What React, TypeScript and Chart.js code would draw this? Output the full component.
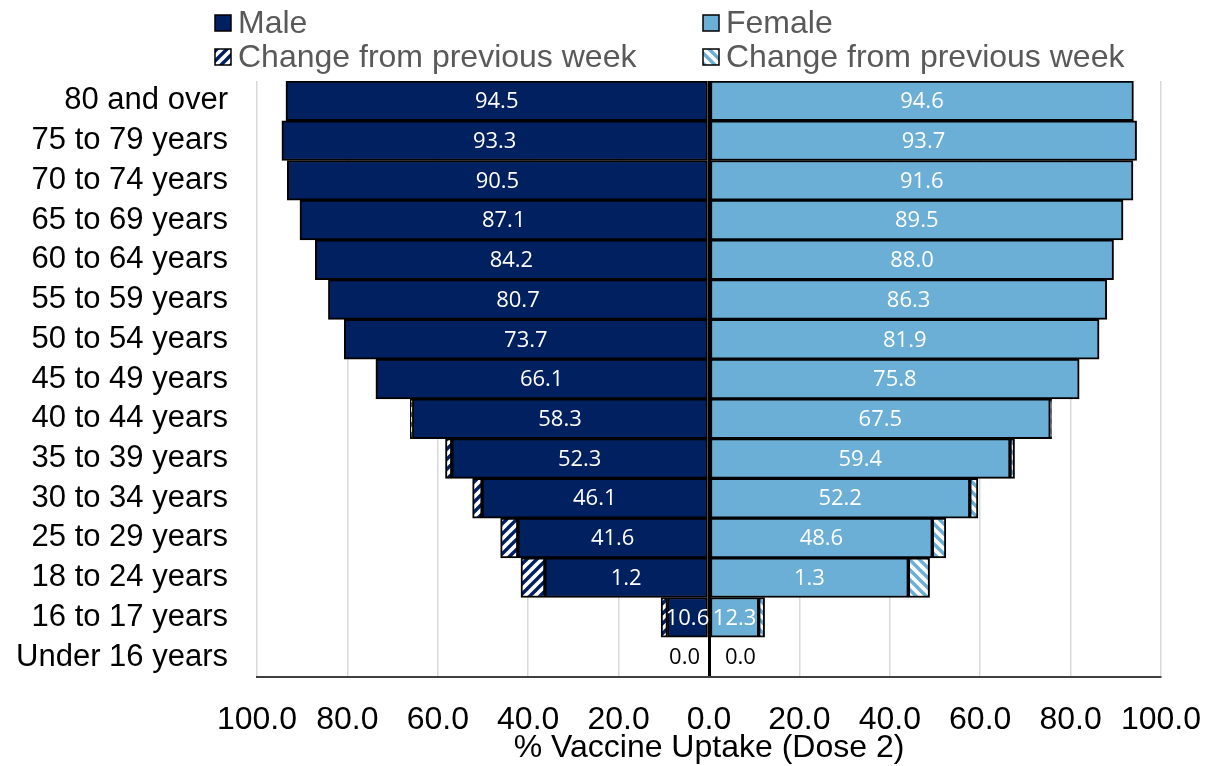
import React, { useEffect, useRef } from "react";
import { Chart, registerables } from "chart.js";

Chart.register(...registerables);

const ageGroups = [
  "80 and over",
  "75 to 79 years",
  "70 to 74 years",
  "65 to 69 years",
  "60 to 64 years",
  "55 to 59 years",
  "50 to 54 years",
  "45 to 49 years",
  "40 to 44 years",
  "35 to 39 years",
  "30 to 34 years",
  "25 to 29 years",
  "18 to 24 years",
  "16 to 17 years",
  "Under 16 years",
];

// Solid (previous) values and weekly change
const maleBase = [93.6, 94.5, 93.3, 90.5, 87.1, 84.2, 80.7, 73.7, 65.6, 56.9, 50.2, 42.3, 36.3, 9.2, 0];
const maleChange = [0, 0, 0, 0, 0, 0, 0, 0, 0.5, 1.4, 2.1, 3.8, 5.3, 1.4, 0];
const femaleBase = [93.9, 94.6, 93.8, 91.6, 89.5, 88.0, 86.3, 81.9, 75.5, 66.6, 57.7, 49.4, 44.1, 11.0, 0];
const femaleChange = [0, 0, 0, 0, 0, 0, 0, 0, 0.3, 1.0, 1.8, 3.0, 4.7, 1.3, 0];

// Data labels as printed in the chart
const maleLabels = ["94.5", "93.3", "90.5", "87.1", "84.2", "80.7", "73.7", "66.1", "58.3", "52.3", "46.1", "41.6", "1.2", "10.6", "0.0"];
const femaleLabels = ["94.6", "93.7", "91.6", "89.5", "88.0", "86.3", "81.9", "75.8", "67.5", "59.4", "52.2", "48.6", "1.3", "12.3", "0.0"];

const seriesNames = ["Male", "Change from previous week", "Female", "Change from previous week"];
const axisTitle = "% Vaccine Uptake (Dose 2)";

const NAVY = "#002060";
const LIGHT = "#6BAED6";

function hasFont(name: string): boolean {
  const ctx = document.createElement("canvas").getContext("2d")!;
  const s = "100.0 Change from previous week";
  ctx.font = "40px monospace";
  const a = ctx.measureText(s).width;
  ctx.font = `40px "${name}", monospace`;
  const b = ctx.measureText(s).width;
  return Math.abs(a - b) > 0.5;
}

function hatch(color: string, up: boolean): CanvasPattern {
  const n = 10;
  const c = document.createElement("canvas");
  c.width = n;
  c.height = n;
  const g = c.getContext("2d")!;
  g.fillStyle = "#ffffff";
  g.fillRect(0, 0, n, n);
  g.strokeStyle = color;
  g.lineWidth = 3.4;
  g.beginPath();
  if (up) {
    g.moveTo(-2, n + 2); g.lineTo(n + 2, -2);
    g.moveTo(-2, 2); g.lineTo(2, -2);
    g.moveTo(n - 2, n + 2); g.lineTo(n + 2, n - 2);
  } else {
    g.moveTo(-2, -2); g.lineTo(n + 2, n + 2);
    g.moveTo(n - 2, -2); g.lineTo(n + 2, 2);
    g.moveTo(-2, n - 2); g.lineTo(2, n + 2);
  }
  g.stroke();
  return g.createPattern(c, "repeat")!;
}

export default function App() {
  const ref = useRef<HTMLCanvasElement | null>(null);

  useEffect(() => {
    if (!ref.current) return;
    document.documentElement.style.overflow = "hidden";
    document.body.style.overflow = "hidden";
    const narrow = hasFont("Liberation Sans Narrow");
    const condFamily = narrow ? '"Liberation Sans Narrow", "Liberation Sans", Arial, sans-serif' : '"Liberation Sans", Arial, sans-serif';
    const condSize = narrow ? 38 : 32;
    const labelFont = '22px "Open Sans", "Noto Sans", sans-serif';

    const maleHatch = hatch(NAVY, true);
    const femaleHatch = hatch(LIGHT, false);
    const fills = [NAVY, maleHatch, LIGHT, femaleHatch];

    const custom = {
      id: "custom",
      afterDatasetsDraw(chart: any) {
        const ctx = chart.ctx as CanvasRenderingContext2D;
        const x0 = chart.scales.x.getPixelForValue(0);
        ctx.save();
        ctx.font = labelFont;
        ctx.textBaseline = "middle";
        const m0 = chart.getDatasetMeta(0).data;
        const f0 = chart.getDatasetMeta(2).data;
        for (let i = 0; i < ageGroups.length; i++) {
          const me = m0[i];
          if (maleBase[i] > 0) {
            ctx.fillStyle = "#ffffff";
            ctx.textAlign = "center";
            ctx.fillText(maleLabels[i], (me.x + me.base) / 2, me.y + 1);
          } else {
            ctx.fillStyle = "#000000";
            ctx.textAlign = "right";
            ctx.fillText(maleLabels[i], x0 - 9, me.y + 1);
          }
          const fe = f0[i];
          if (femaleBase[i] > 0) {
            ctx.fillStyle = "#ffffff";
            ctx.textAlign = "center";
            ctx.fillText(femaleLabels[i], (fe.x + fe.base) / 2, fe.y + 1);
          } else {
            ctx.fillStyle = "#000000";
            ctx.textAlign = "left";
            ctx.fillText(femaleLabels[i], x0 + 16, fe.y + 1);
          }
        }
        ctx.restore();
      },
      afterDraw(chart: any) {
        const ctx = chart.ctx as CanvasRenderingContext2D;
        const area = chart.chartArea;
        ctx.save();
        // Legend
        const items = [
          { ds: 0, x: 207, y: 15 },
          { ds: 2, x: 695, y: 15 },
          { ds: 1, x: 207, y: 49 },
          { ds: 3, x: 695, y: 49 },
        ];
        ctx.font = `${condSize}px ${condFamily}`;
        ctx.textBaseline = "middle";
        ctx.textAlign = "left";
        for (const it of items) {
          ctx.fillStyle = fills[it.ds] as any;
          ctx.fillRect(it.x, it.y - 8, 16, 16);
          ctx.strokeStyle = "#000000";
          ctx.lineWidth = 1.5;
          ctx.strokeRect(it.x, it.y - 8, 16, 16);
          ctx.fillStyle = "#595959";
          ctx.fillText(chart.data.datasets[it.ds].label, it.x + 23, it.y + 1);
        }
        // Axis title
        ctx.fillStyle = "#000000";
        ctx.textAlign = "center";
        ctx.fillText(axisTitle, (area.left + area.right) / 2, 740);
        ctx.restore();
      },
    };

    const common = {
      borderColor: "#000000",
      borderWidth: 2,
      borderSkipped: false,
      stack: "all",
    };

    const chart = new Chart(ref.current, {
      type: "bar",
      data: {
        labels: ageGroups,
        datasets: [
          { label: seriesNames[0], data: maleBase.map((v) => -v), backgroundColor: NAVY, ...common },
          { label: seriesNames[1], data: maleChange.map((v) => -v), backgroundColor: maleHatch as any, ...common },
          { label: seriesNames[2], data: femaleBase, backgroundColor: LIGHT, ...common },
          { label: seriesNames[3], data: femaleChange, backgroundColor: femaleHatch as any, ...common },
        ],
      },
      options: {
        indexAxis: "y",
        responsive: false,
        animation: false,
        barPercentage: 1,
        categoryPercentage: 1,
        layout: { padding: { top: 73, right: 39, left: 0, bottom: 0 } },
        plugins: {
          legend: { display: false },
          tooltip: { enabled: false },
          title: { display: false },
        },
        scales: {
          x: {
            stacked: true,
            min: -100,
            max: 100,
            ticks: {
              stepSize: 20,
              autoSkip: false,
              maxRotation: 0,
              color: "#000000",
              padding: 24,
              font: { family: condFamily, size: condSize },
              callback: (v: any) => Math.abs(Number(v)).toFixed(1),
            },
            grid: {
              drawTicks: false,
              color: (c: any) => (c.tick && c.tick.value === 0 ? "#000000" : "#d9d9d9"),
              lineWidth: (c: any) => (c.tick && c.tick.value === 0 ? 3 : 1.5),
            },
            border: { display: true, color: "#404040", width: 2 },
            afterFit: (s: any) => {
              s.height = 89;
              s.paddingLeft = 0;
              s.paddingRight = 0;
            },
          },
          y: {
            stacked: true,
            grid: { display: false, drawTicks: false },
            border: { display: false },
            ticks: {
              color: "#000000",
              padding: 29,
              autoSkip: false,
              font: { family: '"Liberation Sans", Arial, sans-serif', size: 31 },
            },
            afterFit: (s: any) => {
              s.width = 249;
              s.paddingTop = 0;
              s.paddingBottom = 0;
            },
          },
        },
      },
      plugins: [custom],
    } as any);

    return () => chart.destroy();
  }, []);

  return <canvas ref={ref} width={1192} height={758} style={{ display: "block" }} />;
}
